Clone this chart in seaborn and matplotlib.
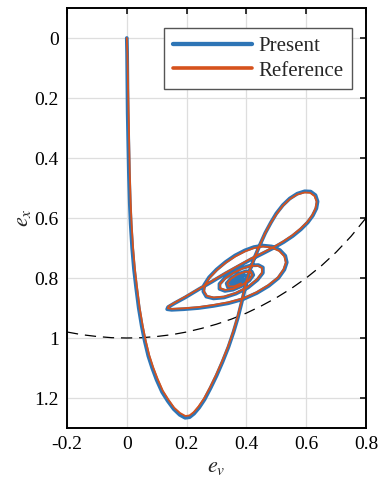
import matplotlib
matplotlib.use("Agg")
import matplotlib.pyplot as plt
import pandas as pd
import seaborn as sns

# ---- trajectory computed by the present model ----
present_ev = [0.000, 0.001, 0.002, 0.003, 0.005, 0.007, 0.010, 0.013, 0.018, 0.024,
              0.031, 0.040, 0.050, 0.060, 0.072, 0.085, 0.100, 0.118, 0.137, 0.157,
              0.177, 0.195, 0.210, 0.225, 0.242, 0.260, 0.280, 0.300, 0.320, 0.340,
              0.357, 0.372, 0.387, 0.400, 0.413, 0.428, 0.445, 0.463, 0.482, 0.500,
              0.522, 0.545, 0.570, 0.595, 0.615, 0.631, 0.638, 0.634, 0.622, 0.605,
              0.582, 0.555, 0.525, 0.490, 0.455, 0.415, 0.375, 0.330, 0.285, 0.240,
              0.195, 0.160, 0.138, 0.135, 0.150, 0.190, 0.240, 0.290, 0.340, 0.390,
              0.435, 0.475, 0.507, 0.527, 0.535, 0.530, 0.512, 0.485, 0.455, 0.425,
              0.395, 0.362, 0.330, 0.300, 0.275, 0.259, 0.256, 0.266, 0.290, 0.325,
              0.365, 0.405, 0.437, 0.455, 0.455, 0.440, 0.415, 0.385, 0.355, 0.328,
              0.310, 0.310, 0.328, 0.355, 0.385, 0.410, 0.423, 0.418, 0.398, 0.372,
              0.348, 0.334, 0.338, 0.358, 0.382, 0.400, 0.404, 0.390, 0.370, 0.352,
              0.348, 0.362, 0.380, 0.390, 0.382, 0.366, 0.358, 0.368, 0.378, 0.372,
              0.367]
present_ex = [0.000, 0.050, 0.150, 0.250, 0.350, 0.450, 0.550, 0.620, 0.700, 0.770,
              0.830, 0.900, 0.960, 1.010, 1.060, 1.100, 1.140, 1.180, 1.210, 1.237,
              1.256, 1.266, 1.264, 1.252, 1.232, 1.205, 1.167, 1.126, 1.080, 1.030,
              0.980, 0.930, 0.870, 0.815, 0.770, 0.730, 0.690, 0.650, 0.615, 0.585,
              0.557, 0.535, 0.519, 0.511, 0.512, 0.524, 0.545, 0.568, 0.592, 0.615,
              0.638, 0.660, 0.680, 0.700, 0.718, 0.738, 0.760, 0.785, 0.812, 0.838,
              0.865, 0.884, 0.897, 0.904, 0.906, 0.904, 0.900, 0.893, 0.884, 0.870,
              0.850, 0.826, 0.800, 0.772, 0.748, 0.726, 0.707, 0.695, 0.692, 0.697,
              0.708, 0.725, 0.747, 0.772, 0.798, 0.823, 0.845, 0.862, 0.868, 0.865,
              0.852, 0.832, 0.806, 0.783, 0.765, 0.757, 0.758, 0.767, 0.782, 0.800,
              0.820, 0.836, 0.843, 0.839, 0.826, 0.808, 0.790, 0.779, 0.778, 0.787,
              0.802, 0.818, 0.830, 0.830, 0.820, 0.806, 0.795, 0.791, 0.797, 0.809,
              0.820, 0.822, 0.814, 0.804, 0.799, 0.804, 0.813, 0.816, 0.810, 0.806,
              0.810]

# ---- reference solution ----
reference_ev = [0.000, 0.002, 0.004, 0.006, 0.008, 0.010, 0.013, 0.016, 0.021, 0.027,
                0.034, 0.043, 0.053, 0.063, 0.075, 0.088, 0.103, 0.120, 0.139, 0.158,
                0.178, 0.196, 0.210, 0.224, 0.240, 0.258, 0.278, 0.298, 0.318, 0.338,
                0.355, 0.370, 0.385, 0.398, 0.412, 0.427, 0.444, 0.462, 0.481, 0.500,
                0.521, 0.544, 0.569, 0.594, 0.613, 0.628, 0.635, 0.631, 0.620, 0.603,
                0.580, 0.553, 0.523, 0.489, 0.454, 0.414, 0.374, 0.330, 0.285, 0.241,
                0.196, 0.162, 0.140, 0.137, 0.152, 0.191, 0.241, 0.290, 0.340, 0.389,
                0.433, 0.473, 0.505, 0.524, 0.532, 0.527, 0.510, 0.484, 0.455, 0.426,
                0.396, 0.363, 0.331, 0.302, 0.277, 0.261, 0.258, 0.268, 0.291, 0.326,
                0.365, 0.404, 0.435, 0.452, 0.452, 0.438, 0.414, 0.385, 0.356, 0.330,
                0.312, 0.312, 0.330, 0.356, 0.385, 0.409, 0.420, 0.415, 0.396, 0.371,
                0.349, 0.336, 0.340, 0.359, 0.382]
reference_ex = [0.000, 0.050, 0.150, 0.250, 0.350, 0.450, 0.550, 0.620, 0.700, 0.770,
                0.830, 0.900, 0.958, 1.008, 1.057, 1.097, 1.136, 1.175, 1.205, 1.232,
                1.250, 1.260, 1.258, 1.247, 1.228, 1.202, 1.165, 1.124, 1.079, 1.030,
                0.981, 0.931, 0.872, 0.817, 0.772, 0.732, 0.692, 0.652, 0.617, 0.588,
                0.560, 0.538, 0.522, 0.515, 0.516, 0.527, 0.546, 0.568, 0.591, 0.614,
                0.636, 0.658, 0.678, 0.698, 0.716, 0.736, 0.758, 0.783, 0.810, 0.836,
                0.862, 0.881, 0.894, 0.901, 0.903, 0.901, 0.897, 0.890, 0.881, 0.868,
                0.848, 0.824, 0.799, 0.772, 0.749, 0.728, 0.710, 0.698, 0.695, 0.700,
                0.711, 0.728, 0.749, 0.773, 0.799, 0.823, 0.844, 0.860, 0.865, 0.862,
                0.850, 0.830, 0.805, 0.783, 0.766, 0.759, 0.760, 0.769, 0.783, 0.801,
                0.820, 0.834, 0.840, 0.836, 0.824, 0.807, 0.790, 0.780, 0.779, 0.788,
                0.802, 0.817, 0.828, 0.828, 0.818]

# ---- boundary curve ----
bound_ev = [-0.20, -0.15, -0.10, -0.05, 0.00, 0.05, 0.10, 0.15, 0.20, 0.25, 0.30,
            0.35, 0.40, 0.45, 0.50, 0.55, 0.60, 0.65, 0.70, 0.75, 0.80]
bound_ex = [0.980, 0.989, 0.995, 0.999, 1.000, 0.999, 0.995, 0.989, 0.980, 0.968, 0.954,
            0.937, 0.917, 0.893, 0.866, 0.835, 0.800, 0.760, 0.714, 0.661, 0.600]

xticks = [-0.2, 0.0, 0.2, 0.4, 0.6, 0.8]
xtick_labels = ["-0.2", "0", "0.2", "0.4", "0.6", "0.8"]
yticks = [0.0, 0.2, 0.4, 0.6, 0.8, 1.0, 1.2]
ytick_labels = ["0", "0.2", "0.4", "0.6", "0.8", "1", "1.2"]

BLUE = "#2e75b6"
ORANGE = "#d6521c"

sns.set_theme(style="white")
plt.rcParams["font.family"] = ["Liberation Serif", "DejaVu Serif"]
plt.rcParams["mathtext.fontset"] = "stix"

fig = plt.figure(figsize=(3.8, 4.9), dpi=100)
ax = fig.add_axes([67 / 380, 62 / 490, 299 / 380, 420 / 490])

present = pd.DataFrame({"ev": present_ev, "ex": present_ex})
reference = pd.DataFrame({"ev": reference_ev, "ex": reference_ex})
bound = pd.DataFrame({"ev": bound_ev, "ex": bound_ex})

sns.lineplot(data=bound, x="ev", y="ex", sort=False, estimator=None, ax=ax,
             color="black", lw=0.9, ls=(0, (9, 5.5)), legend=False, zorder=2)
sns.lineplot(data=present, x="ev", y="ex", sort=False, estimator=None, ax=ax,
             color=BLUE, lw=2.7, label="Present", zorder=3)
sns.lineplot(data=reference, x="ev", y="ex", sort=False, estimator=None, ax=ax,
             color=ORANGE, lw=1.3, label="Reference", zorder=4)

ax.set_xlim(-0.2, 0.8)
ax.set_ylim(1.3, -0.1)
ax.set_xticks(xticks)
ax.set_xticklabels(xtick_labels)
ax.set_yticks(yticks)
ax.set_yticklabels(ytick_labels)
ax.grid(True, color="#dedede", lw=0.9)
ax.set_axisbelow(True)
ax.tick_params(direction="in", top=True, right=True, length=4, width=1.1,
               labelsize=14, colors="black", pad=6)
for sp in ax.spines.values():
    sp.set_color("black")
    sp.set_linewidth(1.4)

ax.set_xlabel("$e_v$", fontsize=16, labelpad=3)
ax.set_ylabel("$e_x$", fontsize=16, labelpad=1)

leg = ax.legend(loc="upper right", bbox_to_anchor=(0.953, 0.952), borderaxespad=0,
                fontsize=15, handlelength=3.8, frameon=True, fancybox=False,
                framealpha=1, edgecolor="#555555", borderpad=0.42,
                labelspacing=0.22, handletextpad=0.3)
leg.get_frame().set_linewidth(1.0)
handle_widths = [3.1, 2.6]
for h, w in zip(leg.get_lines(), handle_widths):
    h.set_linewidth(w)

fig.savefig("out.png", dpi=100)
